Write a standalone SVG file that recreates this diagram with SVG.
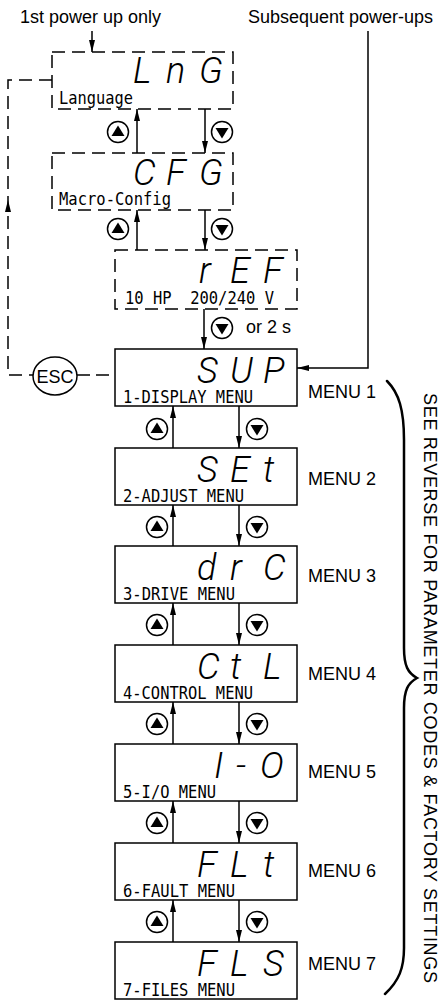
<svg xmlns="http://www.w3.org/2000/svg" xmlns:xlink="http://www.w3.org/1999/xlink" width="438" height="1000" viewBox="0 0 438 1000">
<style>
.box{fill:#fff;stroke:#000;stroke-width:1.5}
.dbox{fill:#fff;stroke:#000;stroke-width:1.5;stroke-dasharray:13 7}
.dash{fill:none;stroke:#000;stroke-width:1.5;stroke-dasharray:13 7}
.ln{fill:none;stroke:#000;stroke-width:1.5}
.seg{font-family:Roboto,"Liberation Sans",Arial,sans-serif;font-style:italic;font-weight:300;font-size:36px;fill:#000}
.lcd{font-family:"DejaVu Sans Mono","Liberation Mono",monospace;font-size:17.5px;fill:#000}
.lbl{font-family:"Liberation Sans",Arial,sans-serif;font-size:18px;fill:#000}
.btn{fill:#fff;stroke:#000;stroke-width:1.5}
</style>
<defs>
<marker id="ah" viewBox="0 0 12 6" refX="12" refY="3" markerWidth="12" markerHeight="6" markerUnits="userSpaceOnUse" orient="auto"><path d="M0,0 L12,3 L0,6 z" fill="#000"/></marker>
<g id="bup"><circle class="btn" r="10.5"/><path d="M0,-6.5 L6.5,4 L-6.5,4 z" fill="#000"/></g>
<g id="bdn"><circle class="btn" r="10.5"/><path d="M0,6.5 L6.5,-4 L-6.5,-4 z" fill="#000"/></g>
</defs>

<g id="connectors">
  <line class="ln" x1="92" y1="31" x2="92" y2="52" marker-end="url(#ah)"/>
  <path class="ln" d="M368,31 L368,368 L297,368" marker-end="url(#ah)"/>
  <line class="ln" x1="137" y1="153" x2="137" y2="109" marker-end="url(#ah)"/>
  <line class="ln" x1="205" y1="109" x2="205" y2="153" marker-end="url(#ah)"/>
  <line class="ln" x1="137" y1="250" x2="137" y2="210" marker-end="url(#ah)"/>
  <line class="ln" x1="205" y1="210" x2="205" y2="250" marker-end="url(#ah)"/>
  <line class="ln" x1="204" y1="309" x2="204" y2="349" marker-end="url(#ah)"/>
  <path class="dash" d="M52,80 L8,80 L8,375 L33,375"/>
  <path d="M8,200 L11,212 L5,212 z" fill="#000"/>
  <path class="dash" d="M77,375 L115,375" style="stroke-dasharray:13 6"/>
  <line class="ln" x1="173" y1="448" x2="173" y2="406" marker-end="url(#ah)"/>
  <line class="ln" x1="239" y1="406" x2="239" y2="448" marker-end="url(#ah)"/>
  <line class="ln" x1="173" y1="546" x2="173" y2="505" marker-end="url(#ah)"/>
  <line class="ln" x1="239" y1="505" x2="239" y2="546" marker-end="url(#ah)"/>
  <line class="ln" x1="173" y1="645" x2="173" y2="603" marker-end="url(#ah)"/>
  <line class="ln" x1="239" y1="603" x2="239" y2="645" marker-end="url(#ah)"/>
  <line class="ln" x1="173" y1="744" x2="173" y2="702" marker-end="url(#ah)"/>
  <line class="ln" x1="239" y1="702" x2="239" y2="744" marker-end="url(#ah)"/>
  <line class="ln" x1="173" y1="843" x2="173" y2="801" marker-end="url(#ah)"/>
  <line class="ln" x1="239" y1="801" x2="239" y2="843" marker-end="url(#ah)"/>
  <line class="ln" x1="173" y1="942" x2="173" y2="900" marker-end="url(#ah)"/>
  <line class="ln" x1="239" y1="900" x2="239" y2="942" marker-end="url(#ah)"/>
  <use href="#bup" x="118" y="132"/><use href="#bdn" x="222" y="132"/>
  <use href="#bup" x="118" y="229"/><use href="#bdn" x="222" y="229"/>
  <use href="#bdn" x="222" y="328"/>
  <use href="#bup" x="157" y="429"/><use href="#bdn" x="257" y="429"/>
  <use href="#bup" x="157" y="527"/><use href="#bdn" x="257" y="527"/>
  <use href="#bup" x="157" y="625"/><use href="#bdn" x="257" y="625"/>
  <use href="#bup" x="157" y="724"/><use href="#bdn" x="257" y="724"/>
  <use href="#bup" x="157" y="823"/><use href="#bdn" x="257" y="823"/>
  <use href="#bup" x="157" y="922"/><use href="#bdn" x="257" y="922"/>
</g>

<text class="lbl" x="20" y="23">1st power up only</text>
<text class="lbl" x="248" y="23">Subsequent power-ups</text>
<text class="lbl" x="246" y="333">or 2 s</text>

<g id="esc">
  <ellipse class="btn" cx="55" cy="376" rx="22" ry="19"/>
  <text class="lbl" x="55" y="383" text-anchor="middle" font-size="19">ESC</text>
</g>

<g id="node-lng">
  <rect class="dbox" x="52" y="52" width="181" height="57"/>
  <text class="seg" x="133 166 199" y="83">LnG</text>
  <text class="lcd" x="59" y="104" textLength="74" lengthAdjust="spacingAndGlyphs">Language</text>
</g>
<g id="node-cfg">
  <rect class="dbox" x="52" y="153" width="181" height="57"/>
  <text class="seg" x="133 166 199" y="185">CFG</text>
  <text class="lcd" x="59" y="205" textLength="112" lengthAdjust="spacingAndGlyphs">Macro-Config</text>
</g>
<g id="node-ref">
  <rect class="dbox" x="115" y="250" width="182" height="59"/>
  <text class="seg" x="199 230 263" y="283">rEF</text>
  <text class="lcd" x="125" y="304" xml:space="preserve" textLength="149" lengthAdjust="spacingAndGlyphs">10 HP  200/240 V</text>
</g>

<g id="node-sup">
  <rect class="box" x="115" y="349" width="182" height="57"/>
  <text class="seg" x="197 230 263" y="383">SUP</text>
  <text class="lcd" x="123" y="403" textLength="130" lengthAdjust="spacingAndGlyphs">1-DISPLAY MENU</text>
  <text class="lbl" x="308" y="398">MENU 1</text>
</g>
<g id="node-set">
  <rect class="box" x="115" y="448" width="182" height="57"/>
  <text class="seg" x="197 230 263" y="482">SEt</text>
  <text class="lcd" x="123" y="502" textLength="121" lengthAdjust="spacingAndGlyphs">2-ADJUST MENU</text>
  <text class="lbl" x="308" y="485">MENU 2</text>
</g>
<g id="node-drc">
  <rect class="box" x="115" y="546" width="182" height="57"/>
  <text class="seg" x="197 230 263" y="580">drC</text>
  <text class="lcd" x="123" y="600" textLength="112" lengthAdjust="spacingAndGlyphs">3-DRIVE MENU</text>
  <text class="lbl" x="308" y="582">MENU 3</text>
</g>
<g id="node-ctl">
  <rect class="box" x="115" y="645" width="182" height="57"/>
  <text class="seg" x="197 230 263" y="679">CtL</text>
  <text class="lcd" x="123" y="699" textLength="130" lengthAdjust="spacingAndGlyphs">4-CONTROL MENU</text>
  <text class="lbl" x="308" y="680">MENU 4</text>
</g>
<g id="node-io">
  <rect class="box" x="115" y="744" width="182" height="57"/>
  <text class="seg" x="214 236 260" y="778">I-O</text>
  <text class="lcd" x="123" y="798" textLength="93" lengthAdjust="spacingAndGlyphs">5-I/O MENU</text>
  <text class="lbl" x="308" y="778">MENU 5</text>
</g>
<g id="node-flt">
  <rect class="box" x="115" y="843" width="182" height="57"/>
  <text class="seg" x="197 230 263" y="877">FLt</text>
  <text class="lcd" x="123" y="897" textLength="112" lengthAdjust="spacingAndGlyphs">6-FAULT MENU</text>
  <text class="lbl" x="308" y="877">MENU 6</text>
</g>
<g id="node-fls">
  <rect class="box" x="115" y="942" width="182" height="57"/>
  <text class="seg" x="197 230 263" y="976">FLS</text>
  <text class="lcd" x="123" y="996" textLength="112" lengthAdjust="spacingAndGlyphs">7-FILES MENU</text>
  <text class="lbl" x="308" y="970">MENU 7</text>
</g>

<g id="brace">
  <path d="M387,381 C399,393 404,410 404,440 L404,648 C404,666 408,673 417,678 C408,683 404,690 404,708 L404,948 C404,968 399,981 385,994" fill="none" stroke="#000" stroke-width="2.5" stroke-linecap="round"/>
  <text class="lbl" font-size="15.5" transform="translate(424,393) rotate(90)" textLength="590" lengthAdjust="spacing">SEE REVERSE FOR PARAMETER CODES &amp; FACTORY SETTINGS</text>
</g>
</svg>
